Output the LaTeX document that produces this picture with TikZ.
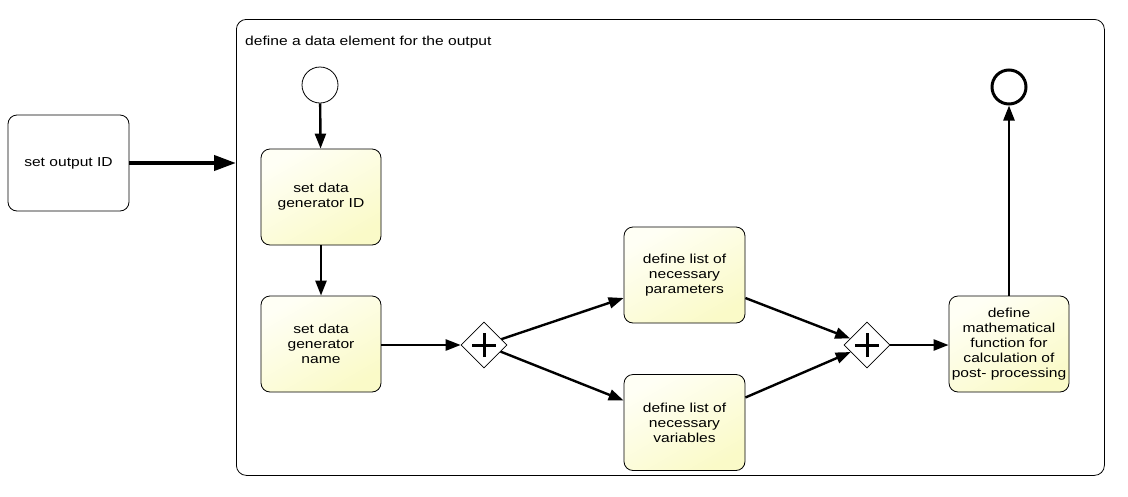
\documentclass[tikz,border=0pt]{standalone}
\usepackage{fontspec}
\setmainfont{Liberation Sans}[FakeStretch=1.2]
\usetikzlibrary{arrows.meta,shapes.geometric}
\begin{document}
\begin{tikzpicture}[x=1pt,y=-1pt,
  font=\fontsize{13}{15}\selectfont,
  taskbox/.style={draw=black, line width=0.8pt, rounded corners=9pt, minimum width=120pt, minimum height=96pt, align=center, text width=118pt, inner sep=1pt,
    shading=axis, top color={rgb,255:red,255;green,255;blue,245}, bottom color={rgb,255:red,250;green,250;blue,200}, shading angle=30},
  gate/.style={draw=black, line width=0.6pt, diamond, fill=white, minimum width=46pt, minimum height=46pt, inner sep=0pt},
  flow/.style={line width=2.4pt, -{Triangle[length=15pt,width=11pt]}},
  plus/.style={line width=3pt}
]
\useasboundingbox (0,0) rectangle (1128,496);
% subprocess
\node[draw=black, line width=0.8pt, rounded corners=10pt, minimum width=868pt, minimum height=456pt, anchor=north west, inner sep=0pt] (sub) at (236,19) {};
\node[anchor=west, inner sep=0pt] (sublabel) at (245,42) {define a data element for the output};
% outside task
\node[draw=black, line width=0.8pt, rounded corners=9pt, fill=white, minimum width=121pt, minimum height=96pt, align=center] (outid) at (68.5,163) {set output ID};
\coordinate (subin) at (236,163);
\draw[line width=4pt, -{Triangle[length=22pt,width=15pt]}] (outid.east) -- (subin);
% events
\node[draw=black, line width=0.8pt, circle, minimum size=36pt, inner sep=0pt, fill=white] (start) at (320,85) {};
\node[draw=black, line width=3pt, circle, minimum size=34pt, inner sep=0pt, fill=white] (end) at (1009,87) {};
% tasks
\node[taskbox] (t1) at (321,197) {set data\\generator ID};
\node[taskbox] (t2) at (321,344) {set data\\generator\\name};
\node[taskbox, minimum width=121pt] (t3) at (684.5,275) {define list of\\necessary\\parameters};
\node[taskbox, minimum width=121pt] (t4) at (684.5,422.5) {define list of\\necessary\\variables};
\node[taskbox] (t5) at (1009,344) {define\\mathematical\\function for\\calculation of\\post- processing};
% gateways
\node[gate] (g1) at (484,345) {};
\node[gate] (g2) at (867,345) {};
\draw[plus] ([yshift=-12pt]g1.center) -- ([yshift=12pt]g1.center) ([xshift=-12pt]g1.center) -- ([xshift=12pt]g1.center);
\draw[plus] ([yshift=-12pt]g2.center) -- ([yshift=12pt]g2.center) ([xshift=-12pt]g2.center) -- ([xshift=12pt]g2.center);
% flows
\draw[flow] (start) -- (t1);
\draw[flow] (t1) -- (t2);
\draw[flow] (t2.east |- g1.west) -- (g1.west);
\draw[flow] (g1) -- ([yshift=-23pt]t3.west);
\draw[flow] (g1) -- ([yshift=22pt]t4.west);
\draw[flow] ([yshift=-23pt]t3.east) -- (g2);
\draw[flow] ([yshift=25pt]t4.east) -- (g2);
\draw[flow] (g2.east) -- (t5.west |- g2.east);
\draw[flow] (t5) -- (end);
\end{tikzpicture}
\end{document}
